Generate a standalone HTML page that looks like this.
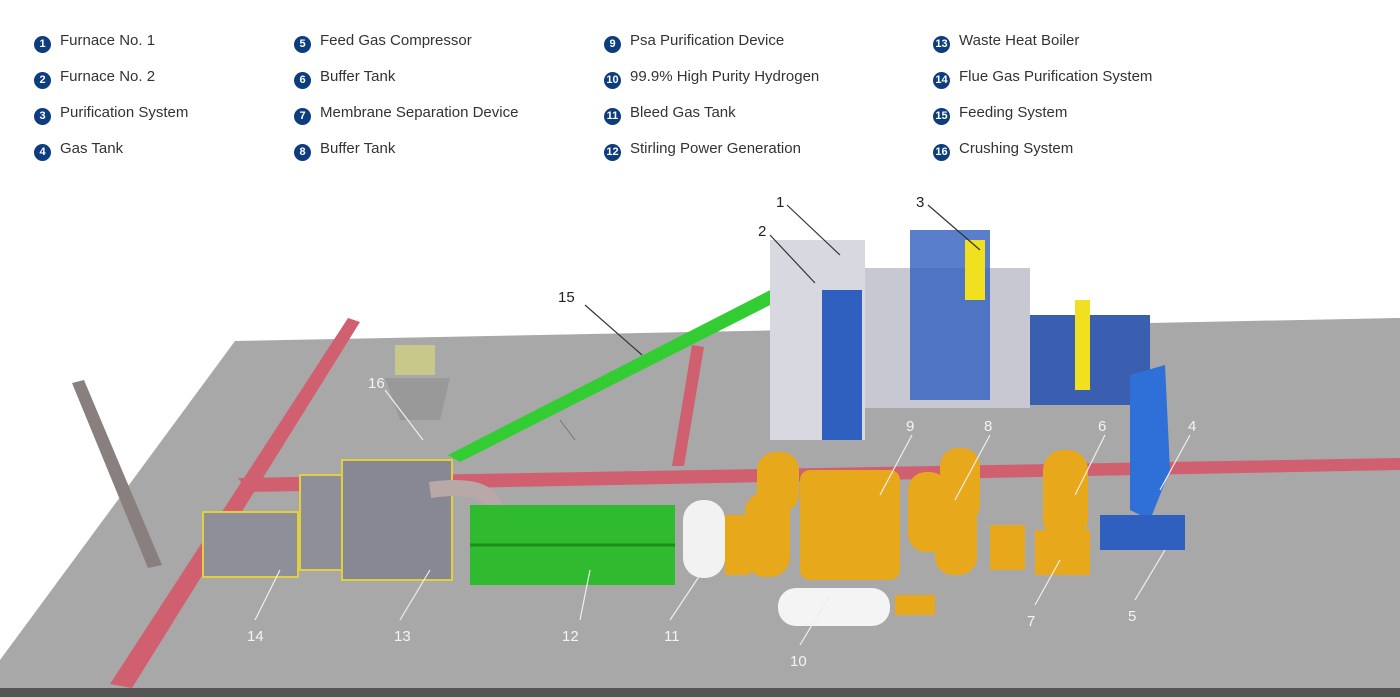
<!DOCTYPE html>
<html><head><meta charset="utf-8"><style>
body{margin:0;width:1400px;height:697px;overflow:hidden;background:#fff;font-family:"Liberation Sans",sans-serif;position:relative}
.lg{position:absolute;font-size:15px;color:#333;line-height:18px}
.lg span{display:inline-block;width:17px;height:17px;border-radius:50%;background:#0d3d7e;color:#fff;font-size:11px;font-weight:bold;text-align:center;line-height:17px;margin-right:9px;vertical-align:-2px}
svg{position:absolute;left:0;top:0}
</style></head><body>
<svg width="1400" height="697" viewBox="0 0 1400 697">
<polygon points="235,341 1400,318 1400,688 0,688 0,660" fill="#a8a8a8"/>
<rect x="0" y="688" width="1400" height="9" fill="#555"/>
<polygon points="348,318 360,322 132,688 110,684" fill="#d06070"/>
<polygon points="238,478 1400,458 1400,470 248,492" fill="#d06070"/>
<polygon points="692,345 704,347 684,466 672,466" fill="#d06070"/>
<polygon points="72,383 84,380 162,565 148,568" fill="#8a7f7f"/>
<rect x="203" y="512" width="95" height="65" fill="#8f8f9a" stroke="#e0d040" stroke-width="2"/>
<rect x="300" y="475" width="50" height="95" fill="#8f8f9a" stroke="#e0d040" stroke-width="2"/>
<rect x="342" y="460" width="110" height="120" fill="#888894" stroke="#e0d040" stroke-width="2"/>
<path d="M430,490 Q500,480 495,520" stroke="#b8a8a8" stroke-width="16" fill="none"/>
<rect x="395" y="345" width="40" height="30" fill="#c8c88a"/>
<polygon points="385,378 450,378 440,420 400,420" fill="#999"/>
<polygon points="448,455 780,285 790,295 460,462" fill="#33cc33"/>
<line x1="560" y1="420" x2="575" y2="440" stroke="#777"/>
<rect x="470" y="505" width="205" height="80" fill="#2fba2f"/>
<line x1="470" y1="545" x2="675" y2="545" stroke="#1b8e1b" stroke-width="3"/>
<rect x="683" y="500" width="42" height="78" rx="20" fill="#f2f2f2"/>
<rect x="770" y="240" width="95" height="200" fill="#d8d8e0"/>
<rect x="822" y="290" width="40" height="150" fill="#2f5fbf"/>
<rect x="865" y="268" width="165" height="140" fill="#c8c8d2"/>
<rect x="910" y="230" width="80" height="170" fill="#2f5fbf" opacity=".8"/>
<rect x="965" y="240" width="20" height="60" fill="#f0e020"/>
<rect x="1030" y="315" width="120" height="90" fill="#3a5fb0"/>
<rect x="1075" y="300" width="15" height="90" fill="#f0e020"/>
<polygon points="1130,375 1165,365 1170,470 1150,520 1130,510" fill="#2f6fd8"/>
<rect x="1100" y="515" width="85" height="35" fill="#2f5fbf"/>
<g fill="#e8a81c">
<rect x="757" y="452" width="42" height="60" rx="18"/>
<rect x="745" y="492" width="45" height="85" rx="20"/>
<rect x="800" y="470" width="100" height="110" rx="10"/>
<rect x="940" y="448" width="40" height="75" rx="18"/>
<rect x="908" y="472" width="40" height="80" rx="18"/>
<rect x="935" y="490" width="42" height="85" rx="18"/>
<rect x="1043" y="450" width="45" height="90" rx="20"/>
<rect x="1035" y="530" width="55" height="45"/>
<rect x="990" y="525" width="35" height="45"/>
<rect x="725" y="515" width="25" height="60"/>
<rect x="895" y="595" width="40" height="20"/>
</g>
<rect x="778" y="588" width="112" height="38" rx="18" fill="#f4f4f4"/>
<g stroke="#333" stroke-width="1.2" fill="none">
<line x1="787" y1="205" x2="840" y2="255"/>
<line x1="770" y1="235" x2="815" y2="283"/>
<line x1="928" y1="205" x2="980" y2="250"/>
<line x1="585" y1="305" x2="642" y2="355"/>
</g>
<g stroke="#eee" stroke-width="1.2" fill="none">
<line x1="385" y1="390" x2="423" y2="440"/>
<line x1="255" y1="620" x2="280" y2="570"/>
<line x1="400" y1="620" x2="430" y2="570"/>
<line x1="580" y1="620" x2="590" y2="570"/>
<line x1="670" y1="620" x2="700" y2="575"/>
<line x1="800" y1="645" x2="830" y2="595"/>
<line x1="1035" y1="605" x2="1060" y2="560"/>
<line x1="1135" y1="600" x2="1165" y2="550"/>
<line x1="1190" y1="435" x2="1160" y2="490"/>
<line x1="1105" y1="435" x2="1075" y2="495"/>
<line x1="990" y1="435" x2="955" y2="500"/>
<line x1="912" y1="435" x2="880" y2="495"/>
</g>
<g font-family="Liberation Sans,sans-serif" font-size="15">
<text x="776" y="207" fill="#222">1</text>
<text x="758" y="236" fill="#222">2</text>
<text x="916" y="207" fill="#222">3</text>
<text x="558" y="302" fill="#222">15</text>
<g fill="#f4f4f4">
<text x="368" y="388">16</text>
<text x="247" y="641">14</text>
<text x="394" y="641">13</text>
<text x="562" y="641">12</text>
<text x="664" y="641">11</text>
<text x="790" y="666">10</text>
<text x="1027" y="626">7</text>
<text x="1128" y="621">5</text>
<text x="1188" y="431">4</text>
<text x="1098" y="431">6</text>
<text x="984" y="431">8</text>
<text x="906" y="431">9</text>
</g></g>
</svg>
<div class="lg" style="left:34px;top:32px"><span>1</span>Furnace No. 1</div>
<div class="lg" style="left:34px;top:68px"><span>2</span>Furnace No. 2</div>
<div class="lg" style="left:34px;top:104px"><span>3</span>Purification System</div>
<div class="lg" style="left:34px;top:140px"><span>4</span>Gas Tank</div>
<div class="lg" style="left:294px;top:32px"><span>5</span>Feed Gas Compressor</div>
<div class="lg" style="left:294px;top:68px"><span>6</span>Buffer Tank</div>
<div class="lg" style="left:294px;top:104px"><span>7</span>Membrane Separation Device</div>
<div class="lg" style="left:294px;top:140px"><span>8</span>Buffer Tank</div>
<div class="lg" style="left:604px;top:32px"><span>9</span>Psa Purification Device</div>
<div class="lg" style="left:604px;top:68px"><span>10</span>99.9% High Purity Hydrogen</div>
<div class="lg" style="left:604px;top:104px"><span>11</span>Bleed Gas Tank</div>
<div class="lg" style="left:604px;top:140px"><span>12</span>Stirling Power Generation</div>
<div class="lg" style="left:933px;top:32px"><span>13</span>Waste Heat Boiler</div>
<div class="lg" style="left:933px;top:68px"><span>14</span>Flue Gas Purification System</div>
<div class="lg" style="left:933px;top:104px"><span>15</span>Feeding System</div>
<div class="lg" style="left:933px;top:140px"><span>16</span>Crushing System</div>
</body></html>
